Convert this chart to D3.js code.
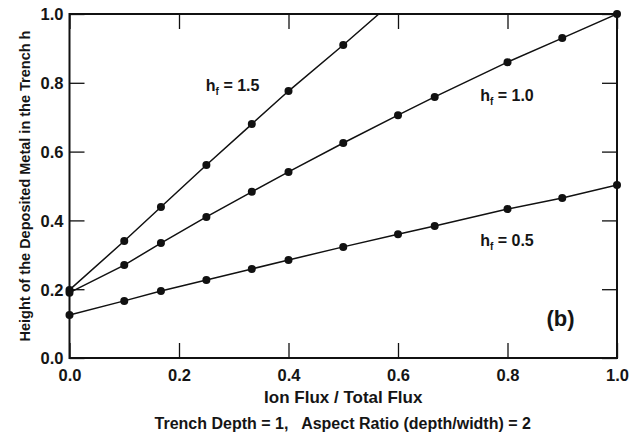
<!DOCTYPE html>
<html>
<head>
<meta charset="utf-8">
<script src="https://cdn.jsdelivr.net/npm/d3@7"></script>
<style>
  body { margin: 0; background: #fff; }
  text { font-family: "Liberation Sans", Arial, sans-serif; fill: #151515; font-weight: bold; white-space: pre; }
</style>
</head>
<body>
<div id="chart"></div>
<script>
// ion flux fraction at which the simulations were run
const fluxVals = [0, 0.1, 0.167, 0.25, 0.333, 0.4, 0.5, 0.6, 0.667, 0.8, 0.9, 1.0];

// deposited metal height h for each hf
const hf15 = [0.198, 0.340, 0.439, 0.561, 0.680, 0.776, 0.910];
const hf15LineEnd = [0.565, 1.0]; // the line runs on to the top edge
const hf10 = [0.190, 0.270, 0.334, 0.410, 0.483, 0.541, 0.625, 0.706, 0.759, 0.860, 0.930, 1.0];
const hf05 = [0.125, 0.166, 0.195, 0.227, 0.259, 0.285, 0.323, 0.360, 0.384, 0.433, 0.465, 0.503];

const xTicks = [0, 0.2, 0.4, 0.6, 0.8, 1.0];
const yTicks = [0, 0.2, 0.4, 0.6, 0.8, 1.0];

const W = 639, H = 434;
const margin = {top: 14, right: 22, bottom: 76, left: 69.5};
const width = W - margin.left - margin.right;
const height = H - margin.top - margin.bottom;

const x = d3.scaleLinear().domain([0, 1]).range([0, width]);
const y = d3.scaleLinear().domain([0, 1]).range([height, 0]);

const svg = d3.select('#chart').append('svg')
    .attr('width', W)
    .attr('height', H);

const g = svg.append('g')
    .attr('transform', `translate(${margin.left},${margin.top})`);

const fmt = d3.format('.1f');
const tick = 15;

// bottom + left axes carry the labels, ticks point inward
const xAxis = g.append('g')
    .attr('transform', `translate(0,${height})`)
    .call(d3.axisBottom(x).tickValues(xTicks).tickFormat(fmt).tickSizeInner(-tick).tickSizeOuter(0).tickPadding(11));
const yAxis = g.append('g')
    .call(d3.axisLeft(y).tickValues(yTicks).tickFormat(fmt).tickSizeInner(-tick).tickSizeOuter(0).tickPadding(6));
// top + right: ticks only
const xTop = g.append('g')
    .call(d3.axisTop(x).tickValues(xTicks).tickFormat('').tickSizeInner(-tick).tickSizeOuter(0));
const yRight = g.append('g')
    .attr('transform', `translate(${width},0)`)
    .call(d3.axisRight(y).tickValues(yTicks).tickFormat('').tickSizeInner(-tick).tickSizeOuter(0));

[xAxis, yAxis, xTop, yRight].forEach(a => {
  a.select('.domain').remove();
  a.selectAll('line').attr('stroke', '#111').attr('stroke-width', 1.3);
  a.selectAll('text').style('font-size', '16.5px').attr('fill', '#151515');
});
yAxis.selectAll('.tick text').attr('dy', '0.36em');

// frame
g.append('rect')
    .attr('width', width)
    .attr('height', height)
    .attr('fill', 'none')
    .attr('stroke', '#111')
    .attr('stroke-width', 2);

g.append('clipPath').attr('id', 'plot-clip')
  .append('rect').attr('width', width).attr('height', height);

const series = [
  {vals: hf15, end: hf15LineEnd},
  {vals: hf10},
  {vals: hf05}
];

const line = d3.line().x(d => x(d[0])).y(d => y(d[1]));

series.forEach(s => {
  const pts = s.vals.map((v, i) => [fluxVals[i], v]);
  const linePts = s.end ? pts.concat([s.end]) : pts;
  g.append('path')
      .datum(linePts)
      .attr('d', line)
      .attr('fill', 'none')
      .attr('stroke', '#111')
      .attr('stroke-width', 1.5)
      .attr('clip-path', 'url(#plot-clip)');
  g.selectAll(null)
      .data(pts)
      .enter()
      .append('circle')
      .attr('cx', d => x(d[0]))
      .attr('cy', d => y(d[1]))
      .attr('r', 4)
      .attr('fill', '#111');
});

// curve labels h_f = ...
const curveLabels = [
  {txt: '1.5', px: 0.249, py: 0.776},
  {txt: '1.0', px: 0.75, py: 0.747},
  {txt: '0.5', px: 0.75, py: 0.326}
];
curveLabels.forEach(c => {
  const t = g.append('text')
      .attr('x', x(c.px))
      .attr('y', y(c.py))
      .style('font-size', '16px');
  t.append('tspan').text('h');
  t.append('tspan').text('f').attr('dy', 4).style('font-size', '10px');
  t.append('tspan').text(' = ' + c.txt).attr('dy', -4);
});

g.append('text')
    .attr('x', x(0.897))
    .attr('y', y(0.093))
    .attr('text-anchor', 'middle')
    .style('font-size', '22px')
    .text('(b)');

// axis titles
g.append('text')
    .attr('x', width / 2)
    .attr('y', height + 45)
    .attr('text-anchor', 'middle')
    .style('font-size', '17px')
    .text('Ion Flux / Total Flux');

g.append('text')
    .attr('x', width / 2 - 0.5)
    .attr('y', height + 71)
    .attr('text-anchor', 'middle')
    .style('font-size', '16px')
    .text('Trench Depth = 1,   Aspect Ratio (depth/width) = 2');

svg.append('text')
    .attr('transform', `translate(30,${margin.top + height / 2}) rotate(-90)`)
    .attr('text-anchor', 'middle')
    .style('font-size', '14.5px')
    .text('Height of the Deposited Metal in the Trench h');
</script>
</body>
</html>
